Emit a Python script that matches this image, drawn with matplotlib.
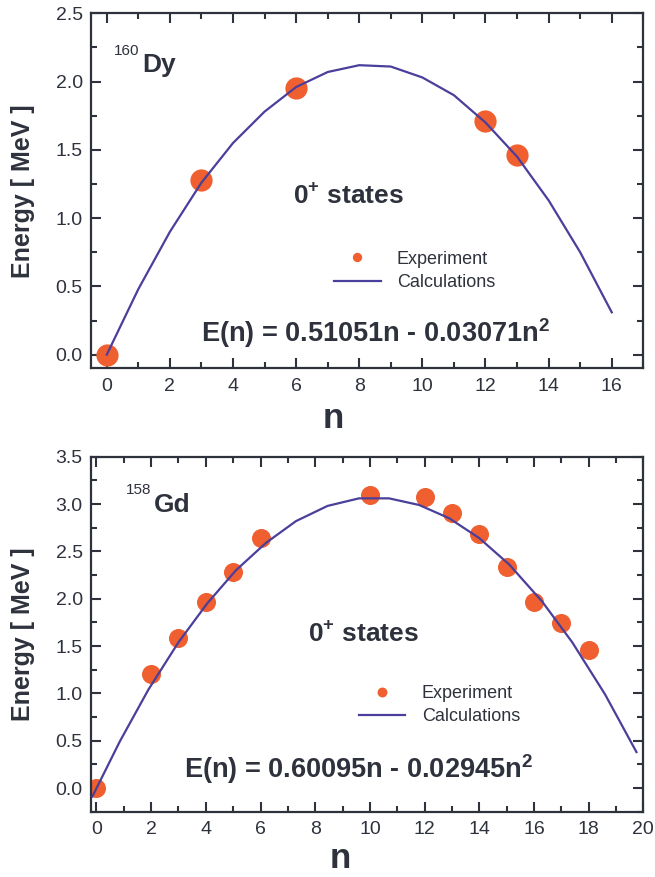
import matplotlib
matplotlib.use('Agg')
import matplotlib.pyplot as plt
from matplotlib.ticker import MultipleLocator

plt.rcParams['font.family'] = ['Liberation Sans', 'DejaVu Sans']
plt.rcParams['mathtext.fontset'] = 'custom'
plt.rcParams['mathtext.rm'] = 'Liberation Sans'
plt.rcParams['mathtext.bf'] = 'Liberation Sans:bold'

# 160Dy: experimental 0+ states and calculated curve
dy_n_exp = [0, 3, 6, 12, 13]
dy_e_exp = [0.0, 1.28, 1.95, 1.71, 1.46]
dy_n_calc = [0, 1, 2, 3, 4, 5, 6, 7, 8, 9, 10, 11, 12, 13, 14, 15, 16]
dy_e_calc = [0.0, 0.48, 0.90, 1.26, 1.55, 1.78, 1.96, 2.07, 2.12, 2.11,
             2.03, 1.90, 1.70, 1.45, 1.13, 0.75, 0.31]

# 158Gd
gd_n_exp = [0, 2, 3, 4, 5, 6, 10, 12, 13, 14, 15, 16, 17, 18]
gd_e_exp = [0.0, 1.20, 1.58, 1.96, 2.28, 2.64, 3.10, 3.07, 2.91, 2.68,
            2.34, 1.97, 1.74, 1.46]
gd_n_calc = [-0.15, 0.85, 1.9, 3.0, 4.05, 5.1, 6.2, 7.3, 8.45, 9.6, 10.7,
             11.8, 12.9, 14.0, 15.1, 16.3, 17.4, 18.6, 19.75]
gd_e_calc = [-0.09, 0.49, 1.04, 1.54, 1.95, 2.30, 2.59, 2.82, 2.98, 3.06,
             3.06, 2.99, 2.85, 2.64, 2.36, 1.97, 1.54, 0.99, 0.38]

DOT = '#ef5f2f'
LINE = '#4a3f9a'
INK = '#2e323c'

fig = plt.figure(figsize=(6.55, 8.77), dpi=100)
W, H = 655, 877


def make_axes(left, top, right, bottom):
    return fig.add_axes([left / W, 1 - bottom / H, (right - left) / W, (bottom - top) / H])


def style(ax, xmaj, ymaj):
    ax.xaxis.set_major_locator(MultipleLocator(xmaj))
    ax.xaxis.set_minor_locator(MultipleLocator(xmaj / 2))
    ax.yaxis.set_major_locator(MultipleLocator(ymaj))
    ax.yaxis.set_minor_locator(MultipleLocator(ymaj / 2))
    ax.tick_params(which='both', direction='in', top=True, right=True,
                   color=INK, width=1.5, labelcolor=INK, labelsize=14)
    ax.tick_params(which='major', length=7.5)
    ax.tick_params(which='minor', length=4.5)
    ax.tick_params(axis='x', pad=7)
    ax.tick_params(axis='y', pad=6)
    for s in ax.spines.values():
        s.set_color(INK)
        s.set_linewidth(1.6)
    ax.set_ylabel('Energy [ MeV ]', fontsize=18, fontweight='bold', color=INK)
    ax.yaxis.set_label_coords(-0.102, 0.5)


def add_legend(ax, anchor, mscale):
    h, l = ax.get_legend_handles_labels()
    leg = ax.legend(h[::-1], l[::-1], loc='center left', bbox_to_anchor=anchor,
                    frameon=False, fontsize=13, markerscale=mscale, handlelength=2.6,
                    handletextpad=0.9, labelspacing=0.35)
    for t in leg.get_texts():
        t.set_color(INK)


# ---- top panel ----
ax1 = make_axes(91, 13.3, 643.3, 368.3)
ax1.plot(dy_n_calc, dy_e_calc, color=LINE, lw=1.6, label='Calculations', zorder=3)
ax1.plot(dy_n_exp, dy_e_exp, 'o', color=DOT, ms=16, mec='none', label='Experiment', zorder=2)
ax1.set_xlim(-0.5, 17)
ax1.set_ylim(-0.1, 2.5)
style(ax1, 2, 0.5)
ax1.text(0.042, 0.882, '160', transform=ax1.transAxes, fontsize=11, color=INK)
ax1.text(0.092, 0.8355, 'Dy', transform=ax1.transAxes, fontsize=19,
         fontweight='bold', color=INK)
ax1.text(0.365, 0.465, r'0$^{\mathbf{+}}$ states', transform=ax1.transAxes, fontsize=19,
         fontweight='bold', color=INK)
ax1.text(0.2, 0.075, r'E(n) = 0.51051n - 0.03071n$^{\mathbf{2}}$', transform=ax1.transAxes,
         fontsize=19.5, fontweight='bold', color=INK)
add_legend(ax1, (0.41, 0.275), 0.42)
fig.text(333 / W, 1 - 428 / H, 'n', fontsize=25, fontweight='bold', color=INK,
         ha='center', va='baseline')

# ---- bottom panel ----
ax2 = make_axes(91, 456.7, 643.3, 811.7)
ax2.plot(gd_n_calc, gd_e_calc, color=LINE, lw=1.6, label='Calculations', zorder=3)
ax2.plot(gd_n_exp, gd_e_exp, 'o', color=DOT, ms=13.7, mec='none', label='Experiment', zorder=2)
ax2.set_xlim(-0.2, 20)
ax2.set_ylim(-0.25, 3.5)
style(ax2, 2, 0.5)
ax2.text(0.063, 0.894, '158', transform=ax2.transAxes, fontsize=11, color=INK)
ax2.text(0.113, 0.845, 'Gd', transform=ax2.transAxes, fontsize=19,
         fontweight='bold', color=INK)
ax2.text(0.393, 0.48, r'0$^{\mathbf{+}}$ states', transform=ax2.transAxes, fontsize=19,
         fontweight='bold', color=INK)
ax2.text(0.168, 0.095, r'E(n) = 0.60095n - 0.02945n$^{\mathbf{2}}$', transform=ax2.transAxes,
         fontsize=19.5, fontweight='bold', color=INK)
add_legend(ax2, (0.455, 0.3), 0.52)
fig.text(340 / W, 1 - 868 / H, 'n', fontsize=25, fontweight='bold', color=INK,
         ha='center', va='baseline')

plt.savefig('out.png', dpi=100)
